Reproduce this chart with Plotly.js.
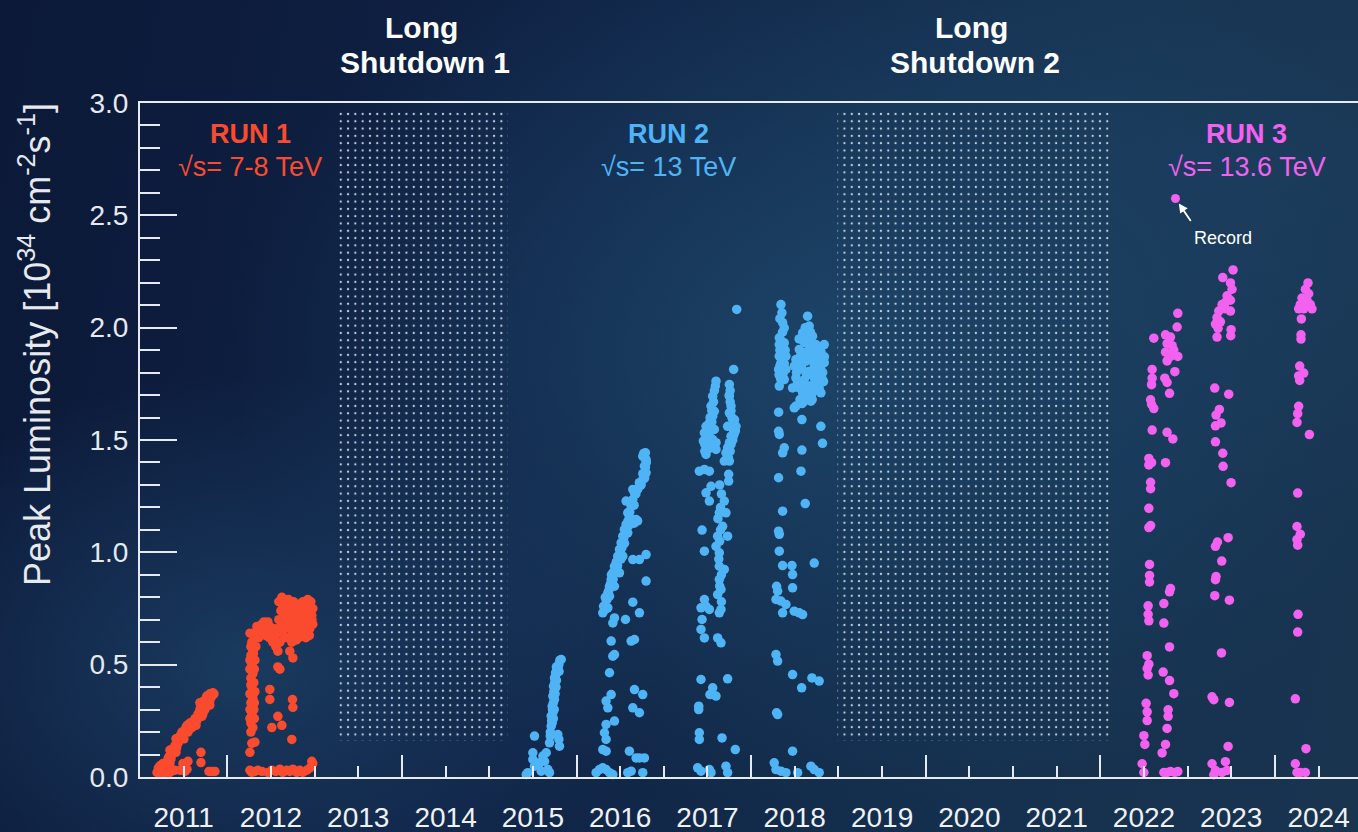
<!DOCTYPE html>
<html>
<head>
<meta charset="utf-8">
<script src="https://cdn.plot.ly/plotly-3.0.1.min.js"></script>
<style>
html,body{margin:0;padding:0;width:1358px;height:832px;overflow:hidden;}
body{
  background:
    radial-gradient(ellipse 45% 55% at 62% 42%, rgba(30,72,108,0.85) 0%, rgba(30,72,108,0) 100%),
    radial-gradient(ellipse 30% 35% at 18% 80%, rgba(30,70,108,0.7) 0%, rgba(30,70,108,0) 100%),
    radial-gradient(ellipse 40% 40% at 95% 20%, rgba(30,62,95,0.6) 0%, rgba(30,62,95,0) 100%),
    linear-gradient(100deg, #0c1938 0%, #0f2245 40%, #15314f 75%, #18344f 100%);
}
#chart{width:1358px;height:832px;}
</style>
</head>
<body>
<div id="chart"></div>
<script>
// ---------------- DATA (decimal year, peak luminosity in 1e34 cm^-2 s^-1) ----------------
const years = [2011,2012,2013,2014,2015,2016,2017,2018,2019,2020,2021,2022,2023,2024];

const shutdownNames = ["Long Shutdown 1", "Long Shutdown 2"];
const shutdownStart = [2013.27, 2018.99];
const shutdownEnd   = [2015.21, 2022.11];
const shutdownLow   = 0.16;
const shutdownHigh  = 2.97;

const run1Points = [
 [2011.195,0.02],[2011.229,0.02],[2011.263,0.02],[2011.297,0.02],[2011.229,0.05],[2011.263,0.06],[2011.297,0.04],
 [2011.320,0.08],[2011.343,0.06],[2011.366,0.10],[2011.343,0.12],[2011.389,0.13],[2011.412,0.11],[2011.435,0.15],
 [2011.412,0.17],[2011.458,0.18],[2011.481,0.20],[2011.503,0.17],[2011.526,0.22],[2011.549,0.20],[2011.572,0.24],
 [2011.595,0.22],[2011.618,0.25],[2011.641,0.23],[2011.664,0.28],[2011.686,0.30],[2011.709,0.27],[2011.732,0.31],
 [2011.686,0.33],[2011.755,0.33],[2011.778,0.35],[2011.801,0.34],[2011.824,0.36],[2011.847,0.37],[2011.801,0.37],
 [2011.744,0.30],[2011.721,0.29],
 [2011.21,0.04],[2011.25,0.035],[2011.28,0.05],[2011.31,0.06],[2011.33,0.09],[2011.355,0.08],[2011.38,0.11],
 [2011.40,0.14],[2011.42,0.13],[2011.445,0.16],[2011.47,0.19],[2011.49,0.18],[2011.515,0.20],[2011.54,0.23],
 [2011.56,0.21],[2011.585,0.24],[2011.61,0.23],[2011.63,0.26],[2011.65,0.25],[2011.675,0.27],[2011.70,0.32],
 [2011.72,0.33],[2011.735,0.34],[2011.765,0.36],[2011.79,0.355],[2011.81,0.36],[2011.835,0.375],[2011.80,0.32],
 [2011.72,0.28],[2011.69,0.29],[2011.22,0.03],[2011.30,0.03],
 [2011.549,0.07],[2011.538,0.035],[2011.343,0.02],[2011.400,0.03],[2011.698,0.11],[2011.698,0.064],[2011.790,0.025],
 [2011.824,0.025],[2011.858,0.025],[2011.492,0.06],[2011.458,0.03],[2011.515,0.025],
 [2012.259,0.03],[2012.281,0.02],[2012.259,0.11],[2012.281,0.15],[2012.316,0.155],[2012.270,0.20],[2012.293,0.22],
 [2012.259,0.26],[2012.281,0.28],[2012.304,0.30],[2012.270,0.33],[2012.293,0.35],[2012.259,0.37],[2012.316,0.38],
 [2012.281,0.40],[2012.304,0.42],[2012.270,0.44],[2012.293,0.46],[2012.259,0.48],[2012.281,0.50],[2012.316,0.52],
 [2012.270,0.54],[2012.293,0.56],[2012.327,0.58],[2012.281,0.60],[2012.316,0.62],[2012.350,0.64],[2012.339,0.67],
 [2012.373,0.65],[2012.396,0.68],[2012.430,0.66],[2012.465,0.69],[2012.487,0.67],[2012.510,0.64],[2012.545,0.66],
 [2012.522,0.60],[2012.556,0.58],[2012.579,0.56],[2012.602,0.60],[2012.625,0.64],[2012.590,0.70],[2012.613,0.74],
 [2012.590,0.78],[2012.625,0.80],[2012.659,0.79],[2012.693,0.77],[2012.716,0.73],[2012.682,0.70],[2012.739,0.68],
 [2012.773,0.70],[2012.796,0.74],[2012.831,0.77],[2012.865,0.78],[2012.899,0.76],[2012.922,0.79],[2012.945,0.75],
 [2012.968,0.72],[2012.979,0.68],[2012.945,0.66],[2012.911,0.69],[2012.876,0.72],[2012.842,0.65],[2012.808,0.64],
 [2012.773,0.62],[2012.739,0.60],[2012.716,0.56],[2012.751,0.53],[2012.659,0.66],[2012.648,0.72],[2012.831,0.70],
 [2012.888,0.64],[2012.957,0.78],[2012.700,0.76],[2012.760,0.75],[2012.860,0.74],[2012.930,0.73],[2012.800,0.70],
 [2012.720,0.66],[2012.860,0.68],[2012.950,0.70],[2012.660,0.62],[2012.780,0.67],
 [2012.60,0.66],[2012.63,0.70],[2012.64,0.76],[2012.67,0.74],[2012.70,0.79],[2012.72,0.70],[2012.74,0.72],
 [2012.76,0.78],[2012.78,0.73],[2012.80,0.76],[2012.82,0.72],[2012.84,0.75],[2012.85,0.69],[2012.88,0.76],
 [2012.89,0.70],[2012.90,0.73],[2012.92,0.67],[2012.93,0.76],[2012.96,0.74],[2012.97,0.70],[2012.98,0.75],
 [2012.94,0.63],[2012.90,0.62],[2012.86,0.63],[2012.82,0.62],[2012.79,0.61],[2012.76,0.64],[2012.70,0.62],
 [2012.68,0.68],[2012.62,0.68],
 [2012.36,0.62],[2012.40,0.64],[2012.44,0.63],[2012.48,0.62],[2012.50,0.66],[2012.42,0.69],[2012.38,0.66],
 [2012.53,0.62],[2012.55,0.63],[2012.47,0.65],
 [2012.27,0.58],[2012.30,0.64],[2012.26,0.64],[2012.30,0.55],[2012.26,0.52],[2012.31,0.48],[2012.27,0.41],
 [2012.30,0.37],[2012.26,0.30],[2012.31,0.33],[2012.27,0.24],[2012.31,0.26],
 [2012.487,0.39],[2012.487,0.345],[2012.579,0.27],[2012.625,0.23],[2012.510,0.22],[2012.747,0.345],[2012.751,0.31],
 [2012.739,0.167],[2012.602,0.48],[2012.579,0.49],
 [2012.316,0.025],[2012.350,0.03],[2012.396,0.025],[2012.465,0.02],[2012.510,0.03],[2012.556,0.025],[2012.602,0.035],
 [2012.636,0.02],[2012.682,0.03],[2012.716,0.025],[2012.751,0.035],[2012.796,0.02],[2012.831,0.03],[2012.865,0.02],
 [2012.911,0.03],[2012.945,0.04],[2012.968,0.07],[2012.979,0.06]
];

const run2Points = [
 // 2015
 [2015.691,0.152],[2015.699,0.182],[2015.710,0.226],[2015.710,0.271],[2015.722,0.315],[2015.729,0.360],[2015.737,0.404],
 [2015.748,0.441],[2015.760,0.464],[2015.775,0.486],[2015.798,0.500],[2015.825,0.523],[2015.748,0.345],[2015.729,0.286],
 [2015.722,0.241],[2015.786,0.189],[2015.805,0.137],[2015.798,0.167],
 [2015.70,0.20],[2015.715,0.25],[2015.725,0.30],[2015.735,0.33],[2015.74,0.38],[2015.75,0.42],[2015.76,0.45],
 [2015.77,0.43],[2015.765,0.40],[2015.755,0.37],[2015.745,0.30],[2015.735,0.26],[2015.79,0.48],[2015.81,0.52],
 [2015.80,0.47],[2015.77,0.49],
 [2015.519,0.182],[2015.500,0.108],[2015.500,0.078],[2015.519,0.048],[2015.443,0.019],[2015.424,0.011],[2015.577,0.063],
 [2015.615,0.093],[2015.634,0.070],[2015.653,0.108],[2015.672,0.033],[2015.596,0.026],[2015.691,0.019],
 // 2016
 [2016.301,0.731],[2016.320,0.760],[2016.339,0.790],[2016.332,0.746],[2016.359,0.820],[2016.378,0.849],[2016.397,0.879],
 [2016.416,0.909],[2016.435,0.938],[2016.454,0.953],[2016.473,0.983],[2016.492,1.013],[2016.511,1.042],[2016.530,1.072],
 [2016.549,1.102],[2016.568,1.124],[2016.606,1.139],[2016.645,1.146],[2016.683,1.146],[2016.587,1.176],[2016.626,1.205],
 [2016.645,1.235],[2016.664,1.265],[2016.645,1.280],[2016.721,1.294],[2016.759,1.324],[2016.797,1.354],[2016.778,1.384],
 [2016.797,1.413],[2016.759,1.428],[2016.790,1.443],[2016.568,1.228],[2016.378,0.805],[2016.492,0.909],[2016.435,0.849],
 [2016.359,0.753],[2016.530,0.983],[2016.587,1.087],
 [2016.31,0.76],[2016.33,0.80],[2016.35,0.79],[2016.37,0.83],[2016.39,0.86],[2016.40,0.90],[2016.42,0.88],
 [2016.44,0.92],[2016.46,0.96],[2016.47,0.94],[2016.50,0.99],[2016.51,0.97],[2016.52,1.02],[2016.54,1.06],
 [2016.55,1.04],[2016.56,1.08],[2016.58,1.11],[2016.59,1.14],[2016.60,1.12],[2016.62,1.15],[2016.63,1.13],
 [2016.66,1.13],[2016.70,1.14],[2016.61,1.18],[2016.63,1.22],[2016.66,1.21],[2016.68,1.26],[2016.70,1.28],
 [2016.72,1.31],[2016.74,1.30],[2016.76,1.35],[2016.78,1.33],[2016.79,1.38],[2016.80,1.40],[2016.78,1.42],
 [2016.77,1.44],
 [2016.797,0.990],[2016.721,0.968],[2016.645,0.968],[2016.797,0.872],[2016.645,0.778],[2016.721,0.731],[2016.561,0.701],
 [2016.435,0.708],[2016.416,0.686],[2016.397,0.605],[2016.626,0.605],[2016.664,0.612],[2016.416,0.538],[2016.435,0.545],
 [2016.378,0.464],[2016.664,0.389],[2016.759,0.367],[2016.397,0.367],[2016.339,0.338],[2016.359,0.308],[2016.645,0.308],
 [2016.721,0.286],[2016.435,0.249],[2016.339,0.234],[2016.320,0.197],[2016.339,0.167],[2016.301,0.122],[2016.339,0.115],
 [2016.606,0.115],[2016.721,0.085],[2016.778,0.085],[2016.683,0.085],
 [2016.225,0.019],[2016.263,0.033],[2016.301,0.041],[2016.339,0.033],[2016.378,0.019],[2016.416,0.011],[2016.587,0.019],
 [2016.626,0.026],[2016.759,0.019],
 // 2017
 [2017.598,1.762],[2017.560,1.695],[2017.541,1.651],[2017.560,1.606],[2017.579,1.628],[2017.484,1.561],[2017.522,1.576],
 [2017.503,1.517],[2017.465,1.532],[2017.560,1.502],[2017.522,1.473],[2017.598,1.458],[2017.484,1.436],[2017.579,1.547],
 [2017.598,1.488],[2017.453,1.495],
 [2017.47,1.48],[2017.49,1.50],[2017.50,1.55],[2017.52,1.53],[2017.53,1.60],[2017.55,1.63],[2017.57,1.67],
 [2017.58,1.72],[2017.59,1.74],[2017.55,1.58],[2017.51,1.46],[2017.47,1.45],
 [2017.751,1.747],[2017.751,1.695],[2017.770,1.651],[2017.751,1.621],[2017.789,1.591],[2017.827,1.561],[2017.808,1.532],
 [2017.751,1.488],[2017.770,1.517],[2017.712,1.443],[2017.751,1.406],[2017.693,1.406],[2017.731,1.561],[2017.731,1.465],
 [2017.800,1.814],[2017.835,2.081],
 [2017.74,1.42],[2017.76,1.45],[2017.77,1.48],[2017.79,1.50],[2017.80,1.52],[2017.82,1.54],[2017.80,1.57],
 [2017.78,1.60],[2017.77,1.63],[2017.76,1.67],[2017.75,1.70],[2017.76,1.72],[2017.81,1.59],[2017.79,1.55],
 [2017.74,1.47],
 [2017.407,1.361],[2017.465,1.369],[2017.522,1.361],[2017.743,1.347],[2017.743,1.317],[2017.484,1.265],[2017.541,1.294],
 [2017.522,1.228],[2017.693,1.228],[2017.636,1.176],[2017.712,1.176],[2017.674,1.116],[2017.731,1.072],[2017.617,1.072],
 [2017.438,1.099],[2017.598,1.027],[2017.636,0.998],[2017.465,1.005],[2017.636,0.938],[2017.693,0.924],[2017.636,0.879],
 [2017.655,0.835],[2017.617,0.812],[2017.655,0.746],[2017.636,0.731],[2017.465,0.790],[2017.484,0.760],[2017.426,0.753],
 [2017.522,0.746],[2017.438,0.701],[2017.426,0.657],[2017.465,0.619],[2017.617,0.619],[2017.655,0.597],
 [2017.64,1.30],[2017.66,1.26],[2017.65,1.20],[2017.62,1.15],[2017.65,1.10],[2017.64,1.05],[2017.63,0.97],
 [2017.66,0.90],[2017.64,0.85],[2017.66,0.78],
 [2017.426,0.434],[2017.731,0.437],[2017.560,0.397],[2017.598,0.360],[2017.529,0.367],[2017.400,0.315],[2017.400,0.300],
 [2017.407,0.197],[2017.407,0.167],[2017.667,0.174],[2017.819,0.122],
 [2017.388,0.041],[2017.426,0.026],[2017.522,0.033],[2017.541,0.019],[2017.712,0.048],[2017.731,0.019],
 // 2018
 [2018.342,2.103],[2018.353,2.066],[2018.361,2.022],[2018.380,1.999],[2018.323,1.955],[2018.380,1.932],[2018.342,1.903],
 [2018.399,1.873],[2018.342,1.844],[2018.399,1.814],[2018.361,1.784],[2018.380,1.769],[2018.323,1.740],[2018.475,1.732],
 [2018.323,1.925],[2018.323,1.873],[2018.315,1.814],
 [2018.33,2.04],[2018.36,1.98],[2018.33,1.90],[2018.37,1.87],[2018.33,1.83],[2018.37,1.80],[2018.34,1.77],
 [2018.35,1.94],[2018.39,1.90],[2018.32,1.79],[2018.38,1.84],
 [2018.647,2.051],[2018.666,2.007],[2018.590,1.977],[2018.704,1.962],[2018.628,1.932],[2018.742,1.925],[2018.838,1.925],
 [2018.552,1.903],[2018.685,1.888],[2018.799,1.895],[2018.513,1.858],[2018.628,1.851],[2018.761,1.851],[2018.838,1.844],
 [2018.552,1.814],[2018.666,1.806],[2018.799,1.814],[2018.513,1.777],[2018.609,1.769],[2018.723,1.777],[2018.818,1.769],
 [2018.552,1.732],[2018.666,1.740],[2018.780,1.732],[2018.628,1.695],[2018.685,1.673],[2018.513,1.651],[2018.494,1.643],
 [2018.582,1.662],[2018.590,1.873],[2018.723,1.836],[2018.494,1.829],[2018.761,1.747],[2018.590,1.710],[2018.704,1.710],
 [2018.55,1.95],[2018.60,1.94],[2018.65,1.96],[2018.70,1.93],[2018.75,1.91],[2018.80,1.87],[2018.57,1.88],
 [2018.62,1.89],[2018.66,1.86],[2018.71,1.86],[2018.74,1.80],[2018.78,1.79],[2018.82,1.80],[2018.54,1.84],
 [2018.58,1.82],[2018.63,1.80],[2018.69,1.79],[2018.72,1.75],[2018.76,1.74],[2018.80,1.71],[2018.53,1.75],
 [2018.57,1.74],[2018.61,1.73],[2018.65,1.71],[2018.69,1.73],[2018.56,1.68],[2018.60,1.67],[2018.64,1.69],
 [2018.70,1.68],[2018.52,1.80],[2018.67,1.92],[2018.62,2.00],[2018.68,1.98],[2018.72,1.89],[2018.77,1.84],
 [2018.84,1.87],[2018.83,1.76],[2018.79,1.76],
 [2018.315,1.624],[2018.582,1.591],[2018.799,1.561],[2018.818,1.485],[2018.315,1.539],[2018.323,1.525],[2018.380,1.465],
 [2018.361,1.443],[2018.582,1.455],[2018.571,1.361],[2018.315,1.332],[2018.620,1.217],[2018.361,1.183],[2018.315,1.094],
 [2018.323,1.080],[2018.323,1.005],[2018.361,0.941],[2018.468,0.941],[2018.475,0.901],[2018.723,0.952],[2018.475,0.842],
 [2018.292,0.849],[2018.304,0.827],[2018.285,0.790],[2018.342,0.783],[2018.399,0.768],[2018.361,0.731],[2018.494,0.738],
 [2018.552,0.731],[2018.590,0.723],[2018.285,0.545],[2018.304,0.516],[2018.475,0.456],[2018.579,0.397],[2018.697,0.441],
 [2018.780,0.427],[2018.292,0.286],[2018.304,0.278],[2018.475,0.115],
 [2018.265,0.063],[2018.285,0.033],[2018.342,0.026],[2018.399,0.019],[2018.533,0.019],[2018.685,0.048],[2018.723,0.033],
 [2018.780,0.019]
];

const run3Points = [
 // 2022
 [2022.613,1.953],[2022.594,1.814],[2022.594,1.775],[2022.587,1.746],[2022.576,1.679],[2022.613,1.640],[2022.587,1.659],
 [2022.594,1.544],[2022.556,1.418],[2022.587,1.399],[2022.556,1.389],[2022.576,1.312],[2022.576,1.283],[2022.556,1.196],
 [2022.556,1.110],[2022.576,1.119],[2022.564,0.946],[2022.564,0.897],[2022.564,0.868],[2022.548,0.762],[2022.548,0.724],
 [2022.556,0.695],[2022.537,0.540],[2022.556,0.502],[2022.537,0.483],[2022.548,0.454],[2022.525,0.328],[2022.537,0.290],
 [2022.537,0.251],[2022.499,0.184],[2022.510,0.145],[2022.479,0.059],[2022.499,0.020],
 [2022.747,1.968],[2022.804,1.958],[2022.765,1.929],[2022.823,1.920],[2022.747,1.891],[2022.804,1.872],[2022.842,1.900],
 [2022.765,1.852],[2022.888,2.064],[2022.880,2.003],[2022.888,1.872],[2022.854,1.804],[2022.739,1.775],[2022.765,1.756],
 [2022.793,1.708],[2022.765,1.534],[2022.831,1.505],[2022.747,1.399],[2022.804,0.839],[2022.793,0.824],[2022.728,0.772],
 [2022.728,0.685],[2022.793,0.579],[2022.720,0.467],[2022.793,0.429],[2022.842,0.371],[2022.777,0.299],[2022.777,0.270],
 [2022.765,0.216],[2022.747,0.145],[2022.708,0.107],[2022.728,0.020],[2022.765,0.020],[2022.804,0.024],[2022.854,0.020],
 [2022.888,0.024],
 // 2023
 [2023.521,2.257],[2023.403,2.223],[2023.491,2.199],[2023.509,2.171],[2023.452,2.142],[2023.491,2.122],[2023.395,2.103],
 [2023.433,2.084],[2023.357,2.074],[2023.491,2.074],[2023.337,2.045],[2023.376,2.026],[2023.319,2.016],[2023.349,1.997],
 [2023.337,1.958],[2023.498,1.991],[2023.494,1.964],[2023.433,2.113],
 [2023.311,1.731],[2023.471,1.704],[2023.364,1.636],[2023.326,1.611],[2023.383,1.576],[2023.319,1.563],[2023.319,1.492],
 [2023.403,1.441],[2023.407,1.383],[2023.498,1.310],[2023.464,1.065],[2023.342,1.046],[2023.319,1.027],[2023.391,0.961],
 [2023.326,0.892],[2023.319,0.878],[2023.311,0.807],[2023.479,0.787],[2023.388,0.552],[2023.280,0.357],[2023.300,0.344],
 [2023.479,0.332],[2023.464,0.136],[2023.280,0.059],[2023.319,0.029],[2023.433,0.068],[2023.452,0.029],[2023.395,0.020],
 [2023.300,0.010],
 // 2024
 [2024.379,2.199],[2024.349,2.171],[2024.387,2.151],[2024.310,2.132],[2024.368,2.122],[2024.291,2.103],[2024.406,2.103],
 [2024.330,2.084],[2024.425,2.084],[2024.272,2.084],[2024.318,2.113],[2024.303,2.039],[2024.299,1.968],[2024.299,1.949],
 [2024.284,1.829],[2024.330,1.798],[2024.272,1.785],[2024.284,1.765],[2024.272,1.650],[2024.261,1.617],[2024.253,1.578],
 [2024.395,1.524],[2024.261,1.264],[2024.253,1.115],[2024.291,1.081],[2024.253,1.057],[2024.261,1.032],[2024.265,0.724],
 [2024.261,0.645],[2024.234,0.348],[2024.356,0.126],[2024.234,0.059],[2024.253,0.020],[2024.291,0.020],[2024.349,0.020]
];

const recordPoint = [2022.861, 2.575];

const runLabels  = ["RUN 1", "RUN 2", "RUN 3"];
const runEnergy  = ["\u221As= 7-8 TeV", "\u221As= 13 TeV", "\u221As= 13.6 TeV"];
const runCenters = [2012.26, 2017.05, 2023.68];

// ---------------- STYLE ----------------
const FONT = "'Liberation Sans', Arial, Helvetica, sans-serif";
const runColors = ["#fb4b2e", "#4fb4f6", "#f261ef"];
const axisColor = "#e6ebf1";
const xRange = [2011, 2011 + 1218/87.3];

const traces = [];

traces.push({
  type: "bar",
  xaxis: "x2", yaxis: "y",
  x: shutdownStart.map((s,i)=> (s + shutdownEnd[i]) / 2),
  width: shutdownStart.map((s,i)=> shutdownEnd[i] - s),
  base: shutdownStart.map(()=> shutdownLow),
  y: shutdownStart.map(()=> shutdownHigh - shutdownLow),
  marker: {
    color: "rgba(0,0,0,0)",
    line: {width: 0},
    pattern: {shape: ".", size: 7.3, solidity: 0.075, fgcolor: "rgba(225,232,240,0.85)", bgcolor: "rgba(0,0,0,0)", fillmode: "replace"}
  },
  hoverinfo: "skip", showlegend: false
});

[run1Points, run2Points, run3Points].forEach((pts, i) => {
  traces.push({
    type: "scatter", mode: "markers",
    x: pts.map(p => p[0]), y: pts.map(p => p[1]),
    marker: {color: runColors[i], size: 9.5, line: {width: 0}},
    showlegend: false, hoverinfo: "x+y", cliponaxis: false
  });
});
traces.push({
  type: "scatter", mode: "markers",
  x: [recordPoint[0]], y: [recordPoint[1]],
  marker: {color: runColors[2], size: 9},
  showlegend: false, hoverinfo: "x+y"
});

const annotations = [];
annotations.push({
  xref: "paper", yref: "paper", x: (35-140)/1218, y: (777-345)/674,
  xanchor: "center", yanchor: "middle", textangle: -90, showarrow: false,
  text: "Peak Luminosity [10<sup>34</sup> cm<sup>-2</sup>s<sup>-1</sup>]",
  font: {family: FONT, size: 36, color: "#e6eaef"}
});
runLabels.forEach((t, i) => {
  annotations.push({x: runCenters[i], y: 2.86, xref: "x", yref: "y", text: "<b>" + t + "</b>", showarrow: false,
    xanchor: "center", yanchor: "middle", font: {family: FONT, size: 27, color: runColors[i]}});
  annotations.push({x: runCenters[i], y: 2.713, xref: "x", yref: "y", text: runEnergy[i], showarrow: false,
    xanchor: "center", yanchor: "middle", font: {family: FONT, size: 27, color: runColors[i]}});
});
shutdownNames.forEach((name, i) => {
  const c = (shutdownStart[i] + shutdownEnd[i]) / 2;
  const parts = name.split(" ");
  annotations.push({x: c - 0.02, y: (777-28)/674, xref: "x", yref: "paper", text: "<b>" + parts[0] + "</b>", showarrow: false,
    xanchor: "center", yanchor: "middle", font: {family: FONT, size: 30, color: "#ffffff"}});
  annotations.push({x: c + 0.02, y: (777-62)/674, xref: "x", yref: "paper", text: "<b>" + parts.slice(1).join(" ") + "</b>", showarrow: false,
    xanchor: "center", yanchor: "middle", font: {family: FONT, size: 30, color: "#ffffff"}});
});
annotations.push({x: recordPoint[0], y: recordPoint[1], xref: "x", yref: "y", text: " ", showarrow: true,
  ax: 17, ay: 25, arrowhead: 2, arrowsize: 1, arrowwidth: 1.8, arrowcolor: "#ffffff", standoff: 6,
  font: {size: 2}});
annotations.push({x: 2023.406, y: 2.397, xref: "x", yref: "y", text: "Record", showarrow: false,
  xanchor: "center", yanchor: "middle", font: {family: FONT, size: 18, color: "#ffffff"}});

const layout = {
  width: 1358, height: 832,
  margin: {l: 140, r: 0, t: 103, b: 55, pad: 0},
  paper_bgcolor: "rgba(0,0,0,0)", plot_bgcolor: "rgba(0,0,0,0)",
  showlegend: false,
  font: {family: FONT, color: axisColor},
  xaxis: {
    range: xRange, showgrid: false, zeroline: false,
    showline: true, linecolor: axisColor, linewidth: 2, mirror: true,
    tickmode: "array", tickvals: years.map(y => y + 0.5), ticktext: years.map(String),
    ticks: "inside", ticklen: 11, tickwidth: 2, tickcolor: axisColor,
    ticklabelstandoff: 14,
    tickfont: {family: FONT, size: 28, color: "#eef1f5"}
  },
  xaxis2: {
    range: xRange, overlaying: "x", anchor: "y", side: "bottom",
    showgrid: false, zeroline: false, showline: false, showticklabels: false,
    tickmode: "array", tickvals: years.filter(y => y % 2 === 0),
    ticks: "inside", ticklen: 22, tickwidth: 2, tickcolor: axisColor,
    minor: {tickmode: "linear", tick0: 2011, dtick: 1, ticks: "inside", ticklen: 11, tickwidth: 2, tickcolor: axisColor, showgrid: false}
  },
  yaxis: {
    range: [0, 3], showgrid: false, zeroline: false,
    showline: true, linecolor: axisColor, linewidth: 2,
    tickmode: "linear", tick0: 0, dtick: 0.5, tickformat: ".1f",
    ticks: "inside", ticklen: 37, tickwidth: 2, tickcolor: axisColor,
    ticklabelstandoff: 4,
    tickfont: {family: FONT, size: 28, color: "#e6eaef"},
    minor: {tick0: 0, dtick: 0.1, ticks: "inside", ticklen: 20, tickwidth: 2, tickcolor: axisColor, showgrid: false}
  },
  annotations: annotations
};

Plotly.newPlot("chart", traces, layout, {displayModeBar: false, staticPlot: true});
</script>
</body>
</html>
